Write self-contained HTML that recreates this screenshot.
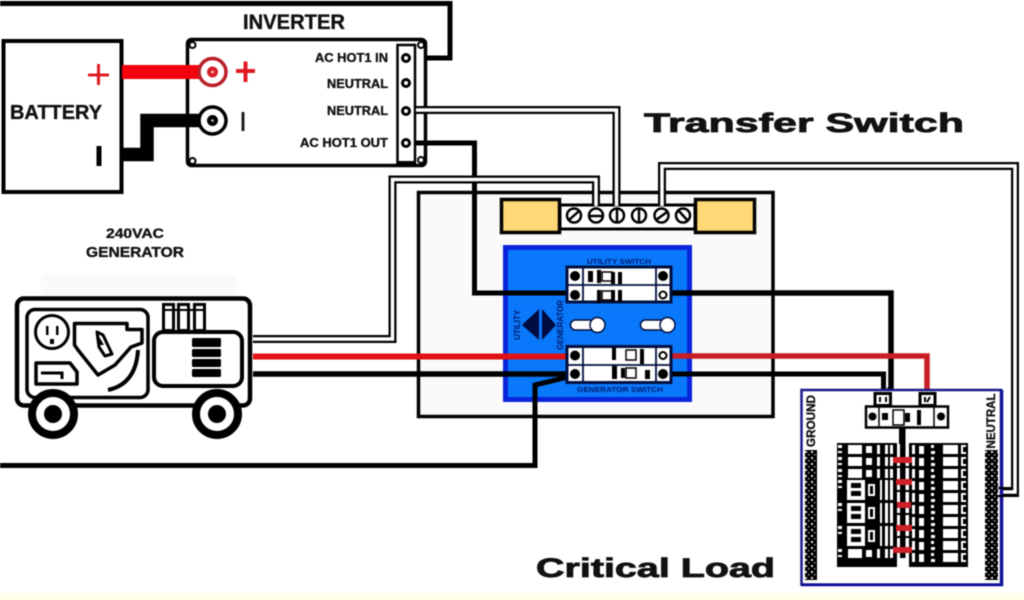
<!DOCTYPE html>
<html><head><meta charset="utf-8"><title>Transfer Switch Wiring</title>
<style>html,body{margin:0;padding:0;background:#fff;overflow:hidden}svg{display:block;filter:blur(.45px)}text{font-family:"Liberation Sans",sans-serif;font-weight:bold;stroke:#111;stroke-width:.35px}text.big{stroke-width:.8px}text.blue{stroke:none}</style></head>
<body>
<svg width="1024" height="600" viewBox="0 0 1024 600" xmlns="http://www.w3.org/2000/svg">
<defs>
<pattern id="dots" width="6" height="6" patternUnits="userSpaceOnUse"><rect width="6" height="6" fill="#000"/><rect x="1" y="1" width="2" height="2" fill="#ddd"/><rect x="4" y="4" width="1.5" height="1.5" fill="#999"/></pattern>
<g id="lrow"><rect x="838" y="1" width="4" height="3" fill="#fff"/><rect x="838" y="7" width="4" height="2" fill="#fff"/><rect x="848" y="1" width="14" height="9" fill="#fff"/><rect x="866" y="2" width="6" height="7" fill="#fff"/><rect x="877" y="1" width="3" height="9" fill="#fff"/><rect x="885" y="1" width="8" height="9" fill="#fff"/><rect x="888" y="1" width="2" height="9" fill="#000"/></g>
<g id="lrow2"><rect x="838" y="1" width="4" height="3" fill="#fff"/><rect x="838" y="7" width="4" height="2" fill="#fff"/><rect x="847" y="1" width="18" height="20" fill="#fff"/><rect x="851" y="4" width="10" height="5" fill="#000"/><rect x="851" y="12" width="10" height="5" fill="#000"/><rect x="868" y="5" width="7" height="12" fill="#fff"/><rect x="870" y="7" width="3" height="8" fill="#000"/><rect x="880" y="1" width="2" height="20" fill="#fff"/><rect x="885" y="1" width="8" height="20" fill="#fff"/><rect x="888" y="1" width="2" height="20" fill="#000"/></g>
<g id="rrow"><rect x="912" y="1" width="3" height="9" fill="#fff"/><rect x="919" y="2" width="5" height="8" fill="#fff"/><rect x="931" y="1" width="3" height="3" fill="#fff"/><rect x="931" y="7" width="4" height="3" fill="#fff"/><rect x="943" y="1" width="15" height="9" fill="#fff"/><rect x="961" y="1" width="5" height="9" fill="#fff"/><rect x="963" y="3" width="3" height="5" fill="#000"/></g>
</defs>
<rect width="1024" height="600" fill="#fff"/>
<rect x="0" y="593" width="1024" height="7" fill="#ffffe9"/>

<!-- top hot wire -->
<path d="M0,3.5H450V58H416" fill="none" stroke="#000" stroke-width="5"/>

<!-- battery -->
<rect x="3.500" y="41" width="118" height="151" fill="#fff" stroke="#000" stroke-width="4"/>
<path d="M88,75H109M98.500,64V85" stroke="#e01b24" stroke-width="3" fill="none"/>
<rect x="96.500" y="146" width="5" height="20"/>
<text x="10" y="119" font-size="20" textLength="92" lengthAdjust="spacingAndGlyphs" fill="#111">BATTERY</text>

<!-- inverter -->
<text x="243" y="29" font-size="21" textLength="102" lengthAdjust="spacingAndGlyphs" fill="#111">INVERTER</text>
<rect x="187.500" y="39.500" width="238" height="126" rx="4" fill="#fff" stroke="#000" stroke-width="3.500"/>
<circle cx="192.500" cy="45" r="3" fill="#fff" stroke="#000" stroke-width="2"/>
<circle cx="192.500" cy="161" r="3" fill="#fff" stroke="#000" stroke-width="2"/>
<circle cx="421" cy="45" r="3" fill="#fff" stroke="#000" stroke-width="2"/>
<circle cx="421" cy="160" r="3" fill="#fff" stroke="#000" stroke-width="2"/>
<rect x="397.500" y="45" width="17.500" height="120" fill="#fff" stroke="#000" stroke-width="2.500"/>
<rect x="398" y="161" width="17" height="4"/>
<g fill="#fff" stroke="#000" stroke-width="3"><circle cx="406" cy="58" r="3.500"/><circle cx="406" cy="83" r="3.500"/><circle cx="406" cy="111" r="3.500"/><circle cx="406" cy="143" r="3.500"/></g>
<g font-size="13" fill="#111">
<text x="315" y="62" textLength="73" lengthAdjust="spacingAndGlyphs">AC HOT1 IN</text>
<text x="327" y="88" textLength="61" lengthAdjust="spacingAndGlyphs">NEUTRAL</text>
<text x="327" y="115" textLength="61" lengthAdjust="spacingAndGlyphs">NEUTRAL</text>
<text x="300" y="147" textLength="88" lengthAdjust="spacingAndGlyphs">AC HOT1 OUT</text>
</g>
<!-- battery cables -->
<rect x="122" y="65" width="80" height="14" fill="#f5000f"/>
<path d="M122,154.500H147V120.500H202" fill="none" stroke="#000" stroke-width="13.500"/>
<circle cx="212.500" cy="72" r="13.500" fill="#fff" stroke="#b9202a" stroke-width="3.500"/>
<circle cx="212.500" cy="72" r="5.500" fill="#d81e28"/><circle cx="212.500" cy="72" r="1.500" fill="#f5b0b0"/>
<circle cx="212.500" cy="120.500" r="13.500" fill="#fff" stroke="#000" stroke-width="3.500"/>
<circle cx="212.500" cy="120.500" r="5.500" fill="#000"/><circle cx="212.500" cy="120.500" r="1.300" fill="#ccc"/>
<path d="M236,71H255M245.500,61.500V82" stroke="#e01b24" stroke-width="4" fill="none"/>
<rect x="241.500" y="112" width="3" height="19" fill="#222"/>

<!-- titles -->
<text class="big" x="644" y="132" font-size="27" textLength="320" lengthAdjust="spacingAndGlyphs" fill="#111">Transfer Switch</text>
<text class="big" x="536" y="577" font-size="27" textLength="239" lengthAdjust="spacingAndGlyphs" fill="#111">Critical Load</text>

<!-- transfer box -->
<rect x="418.500" y="192.500" width="354.500" height="224" fill="#fafafa" stroke="#000" stroke-width="3.500"/>

<!-- terminal strip -->
<rect x="560" y="205" width="135" height="24" fill="#fff" stroke="#000" stroke-width="3"/>
<rect x="501.500" y="199.500" width="58" height="33" fill="#ffd977" stroke="#000" stroke-width="3.500"/>
<rect x="695.500" y="199.500" width="59" height="33" fill="#ffd977" stroke="#000" stroke-width="3.500"/>
<g fill="#fff" stroke="#000" stroke-width="2.500">
<circle cx="574" cy="215.500" r="7"/><circle cx="639" cy="215.500" r="7"/><circle cx="683" cy="215.500" r="7"/>
</g>
<path d="M569,220L579,211M639,209V222M678,210L688,221" stroke="#000" stroke-width="2.500" fill="none"/>

<!-- blue panel -->
<rect x="505.500" y="247.500" width="184" height="152" fill="#0a78fa" stroke="#0a26dc" stroke-width="5"/>

<!-- wires through switch -->
<path d="M416,143H474.500V293H568" fill="none" stroke="#000" stroke-width="5"/>
<path d="M670,293H891V388L882,398" fill="none" stroke="#000" stroke-width="5.500"/>
<path d="M253,356.500H568" fill="none" stroke="#e01216" stroke-width="6"/>
<path d="M253,374H568" fill="none" stroke="#000" stroke-width="5.500"/>
<path d="M670,356H927V392" fill="none" stroke="#c81e26" stroke-width="5.500"/>
<path d="M670,374H883.500V394" fill="none" stroke="#000" stroke-width="5"/>
<path d="M0,465.500H535V385L568,377" fill="none" stroke="#000" stroke-width="5"/>

<!-- double wires -->
<path d="M416,110H616.500V206" fill="none" stroke="#000" stroke-width="8"/>
<path d="M416,110H616.500V206" fill="none" stroke="#fff" stroke-width="3.500"/>
<path d="M253,339H392.500V179.500H596V206" fill="none" stroke="#000" stroke-width="8"/>
<path d="M253,339H392.500V179.500H596V206" fill="none" stroke="#fff" stroke-width="3.500"/>
<path d="M662,206V166H1015V492H998" fill="none" stroke="#000" stroke-width="8"/>
<path d="M662,206V166H1015V492H998" fill="none" stroke="#fff" stroke-width="3.500"/>
<circle cx="596" cy="215.500" r="7" fill="#fff" stroke="#000" stroke-width="2.500"/><path d="M589,216H603" stroke="#000" stroke-width="2.500"/>
<circle cx="617" cy="215.500" r="7" fill="#fff" stroke="#000" stroke-width="2.500"/><path d="M617,209V222" stroke="#000" stroke-width="2.500"/>
<circle cx="661.500" cy="215.500" r="7" fill="#fff" stroke="#000" stroke-width="2.500"/><path d="M656,220L667,212" stroke="#000" stroke-width="2.500"/>

<!-- utility breaker -->
<text class="blue" x="619" y="264" font-size="7" text-anchor="middle" fill="#001a70" textLength="64" lengthAdjust="spacingAndGlyphs">UTILITY SWITCH</text>
<rect x="567" y="267" width="104" height="35" fill="#fff" stroke="#001040" stroke-width="3"/>
<path d="M567,285H671M583,267V302M656,267V302" stroke="#001040" stroke-width="1.800" fill="none"/>
<circle cx="575" cy="276" r="5"/><circle cx="575" cy="295" r="5"/><circle cx="663" cy="276" r="5"/><circle cx="663" cy="295" r="3.500" fill="#fff" stroke="#000" stroke-width="2"/>
<rect x="588" y="271" width="5" height="11"/><rect x="597" y="270" width="4" height="13"/><rect x="602" y="272" width="10" height="9" fill="#fff" stroke="#000" stroke-width="1.500"/><rect x="611" y="272" width="4" height="12"/><rect x="618" y="272" width="4" height="12"/>
<rect x="597" y="290" width="4" height="13"/><rect x="602" y="291" width="10" height="9" fill="#fff" stroke="#000" stroke-width="1.500"/><rect x="611" y="290" width="4" height="12"/><rect x="618" y="290" width="4" height="12"/>

<!-- generator breaker -->
<rect x="567" y="346.500" width="104" height="36" fill="#fff" stroke="#001040" stroke-width="3"/>
<path d="M567,365H671M583,346V383M656,346V383" stroke="#001040" stroke-width="1.800" fill="none"/>
<circle cx="575" cy="355.500" r="5"/><circle cx="575" cy="374" r="5"/><circle cx="663" cy="355.500" r="3.500" fill="#fff" stroke="#000" stroke-width="2"/><circle cx="663" cy="374" r="5"/>
<rect x="612" y="348" width="4" height="12"/><rect x="626" y="350" width="10" height="10" fill="#fff" stroke="#000" stroke-width="1.500"/><rect x="640" y="349" width="4" height="15"/>
<rect x="612" y="366" width="5" height="13"/><rect x="621" y="368" width="4" height="10"/><rect x="626" y="368" width="10" height="10" fill="#fff" stroke="#000" stroke-width="1.500"/><rect x="645" y="370" width="5" height="9"/>
<text class="blue" x="620" y="392" font-size="7" text-anchor="middle" fill="#001a70" textLength="86" lengthAdjust="spacingAndGlyphs">GENERATOR SWITCH</text>

<!-- sliders and arrows -->
<rect x="570.500" y="320" width="30" height="10" rx="5" fill="#fff" stroke="#001040" stroke-width="1.500"/><circle cx="597.500" cy="325" r="7.500" fill="#fff" stroke="#001040" stroke-width="1.500"/>
<rect x="640.500" y="320" width="30" height="10" rx="5" fill="#fff" stroke="#001040" stroke-width="1.500"/><circle cx="667.500" cy="325" r="7.500" fill="#fff" stroke="#001040" stroke-width="1.500"/>
<path d="M539,309V340L522,325ZM542,309V340L556,325Z" fill="#000c40"/>
<text class="blue" transform="translate(520,325) rotate(-90)" font-size="8" text-anchor="middle" fill="#00186a" textLength="30" lengthAdjust="spacingAndGlyphs">UTILITY</text>
<text class="blue" transform="translate(563,325) rotate(-90)" font-size="8" text-anchor="middle" fill="#00186a" textLength="50" lengthAdjust="spacingAndGlyphs">GENERATOR</text>

<!-- generator -->
<text x="135" y="238" font-size="14" text-anchor="middle" textLength="58" lengthAdjust="spacingAndGlyphs" fill="#111">240VAC</text>
<text x="135" y="257" font-size="15" text-anchor="middle" textLength="98" lengthAdjust="spacingAndGlyphs" fill="#111">GENERATOR</text>
<rect x="40" y="274" width="197" height="22" rx="8" fill="#fafafa"/>
<rect x="17" y="298.500" width="233" height="107" rx="7" fill="#fff" stroke="#000" stroke-width="4.500"/>
<rect x="27" y="309.500" width="121" height="88" rx="8" fill="#fff" stroke="#000" stroke-width="3.500"/>
<circle cx="52" cy="332" r="16.500" fill="#fff" stroke="#000" stroke-width="3"/>
<rect x="46" y="326" width="2.500" height="9"/><rect x="56" y="326" width="2.500" height="9"/><rect x="50" y="339" width="4" height="5"/>
<path d="M74.500,323.500H127V329.500H142V343L131,347L115,365L98,375L78,350L74.500,345Z" fill="#fff" stroke="#000" stroke-width="3.500" stroke-linejoin="round"/>
<path d="M97,332L103,335L112,354L105,356L99,347Z" fill="#fff" stroke="#000" stroke-width="3" stroke-linejoin="round"/>
<path d="M97,333L100,345L104,345Z" fill="#000"/>
<path d="M108,390Q136,384 138,350" fill="none" stroke="#000" stroke-width="4"/>
<path d="M36,363H70L77,372V384H36Z" fill="#fff" stroke="#000" stroke-width="3.500" stroke-linejoin="round"/>
<path d="M41,373H62V379" fill="none" stroke="#000" stroke-width="3"/>
<rect x="163.500" y="304.500" width="10" height="26" fill="#fff" stroke="#000" stroke-width="3"/>
<rect x="178.500" y="304.500" width="10" height="26" fill="#fff" stroke="#000" stroke-width="3"/>
<rect x="194.500" y="304.500" width="10" height="26" fill="#fff" stroke="#000" stroke-width="3"/>
<path d="M163,310H205" stroke="#000" stroke-width="2"/>
<rect x="154" y="332" width="88" height="54" rx="9" fill="#fff" stroke="#000" stroke-width="4"/>
<g><rect x="192" y="338" width="29" height="9" rx="1.500"/><rect x="192" y="349" width="29" height="8" rx="1.500"/><rect x="192" y="359" width="29" height="8" rx="1.500"/><rect x="192" y="369" width="29" height="8" rx="1.500"/></g>
<circle cx="53" cy="414" r="21" fill="#fff" stroke="#000" stroke-width="8"/><circle cx="53" cy="414" r="9"/>
<circle cx="217" cy="414" r="21" fill="#fff" stroke="#000" stroke-width="8"/><circle cx="217" cy="414" r="9"/>

<!-- load panel -->
<rect x="801.500" y="390" width="199.500" height="194.500" fill="#fff" stroke="#1a1a8c" stroke-width="2.500"/>
<path d="M801,585H1002V390" fill="none" stroke="#0d0d9a" stroke-width="2.500"/>
<rect x="805" y="450" width="12" height="130" fill="url(#dots)"/>
<rect x="985" y="450" width="13" height="130" fill="url(#dots)"/>
<path d="M998,488H1012M998,496H1019" stroke="#000" stroke-width="2"/>
<text transform="translate(815,421) rotate(-90)" font-size="12" text-anchor="middle" textLength="52" lengthAdjust="spacingAndGlyphs" fill="#111">GROUND</text>
<text transform="translate(995,421) rotate(-90)" font-size="12" text-anchor="middle" textLength="55" lengthAdjust="spacingAndGlyphs" fill="#111">NEUTRAL</text>
<!-- main breaker -->
<rect x="875" y="393.500" width="15.500" height="12" fill="#fff" stroke="#000" stroke-width="3"/><path d="M880,397V402M886,397V402" stroke="#000" stroke-width="2"/>
<rect x="920" y="393.500" width="15" height="12" fill="#fff" stroke="#000" stroke-width="3"/><path d="M925,397V402M930,397L927,402" stroke="#000" stroke-width="2"/>
<rect x="866" y="406.500" width="82" height="21" fill="#fff" stroke="#000" stroke-width="2.500"/>
<path d="M879,406V428M934,406V428" stroke="#000" stroke-width="1.500"/>
<circle cx="872.500" cy="416.500" r="4"/><circle cx="941" cy="416.500" r="4"/>
<rect x="882" y="413" width="6" height="7"/><rect x="893" y="410" width="11" height="15" fill="#fff" stroke="#000" stroke-width="1.500"/><rect x="905" y="413" width="5" height="9"/><rect x="917" y="410" width="4" height="15"/>
<rect x="899" y="428" width="6.500" height="16"/>
<!-- breaker block -->
<rect x="837" y="443" width="60" height="124"/>
<rect x="909" y="443" width="59" height="124"/>
<g>
<use href="#lrow" y="444"/><use href="#lrow" y="456"/><use href="#lrow" y="468"/>
<use href="#lrow2" y="479"/><use href="#lrow2" y="502"/><use href="#lrow2" y="525"/><use href="#lrow" y="548"/>
<use href="#rrow" y="444"/><use href="#rrow" y="456"/><use href="#rrow" y="468"/><use href="#rrow" y="480"/><use href="#rrow" y="492"/><use href="#rrow" y="504"/><use href="#rrow" y="516"/><use href="#rrow" y="528"/><use href="#rrow" y="540"/><use href="#rrow" y="552"/>
</g>
<rect x="900" y="443" width="5.500" height="115"/>
<path d="M897,467H909M897,491H909M897,514H909M897,537H909" stroke="#000" stroke-width="2"/>
<g fill="#d0202a"><rect x="893" y="457" width="19" height="6"/><rect x="896" y="479" width="16" height="6"/><rect x="897" y="502" width="14" height="6"/><rect x="896" y="525" width="16" height="6"/><rect x="893" y="547" width="19" height="6"/></g>
</svg>
</body></html>
